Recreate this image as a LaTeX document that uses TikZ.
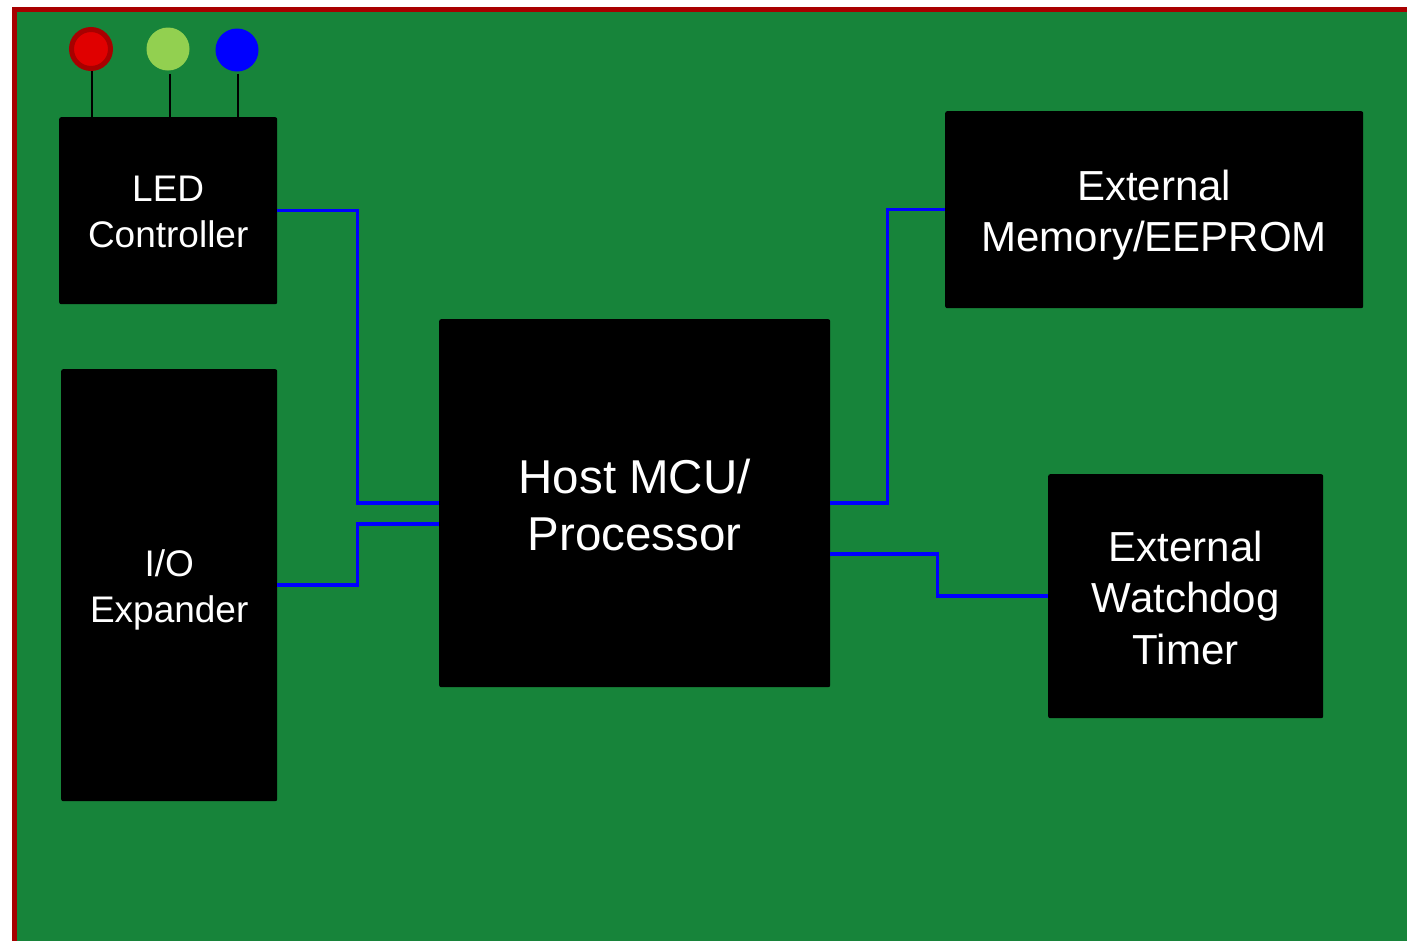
\documentclass[tikz,border=0pt]{standalone}
\usepackage{fontspec}
\setmainfont{Liberation Sans}
\definecolor{board}{RGB}{23,132,58}
\definecolor{boardedge}{RGB}{168,0,0}
\definecolor{ledred}{RGB}{224,0,0}
\definecolor{ledgreen}{RGB}{146,208,80}
\definecolor{ledblue}{RGB}{0,0,255}
\definecolor{trace}{RGB}{0,0,255}
\begin{document}
\begin{tikzpicture}[x=1pt,y=-1pt,
  chip/.style={fill=black,draw=none,rounded corners=2pt,inner sep=0pt,anchor=north west},
  label text/.style={text=white,align=center,inner sep=0pt},
  small/.style={font=\fontsize{37}{46}\selectfont},
  mid/.style={font=\fontsize{42}{51.5}\selectfont},
  big/.style={font=\fontsize{47.5}{57}\selectfont},
  bus/.style={draw=trace,line width=3.5pt},
  pin/.style={draw=black,line width=2pt},
  ledbulb/.style={circle,inner sep=0pt,minimum size=43pt}]
\useasboundingbox (0,0) rectangle (1407,940);
\begin{scope}
\clip (0,0) rectangle (1407,940);
\draw[fill=board,draw=boardedge,line width=5pt] (14.5,9.5) rectangle (1430,960);
\end{scope}
% chips
\node[chip,minimum width=218pt,minimum height=187pt] (led) at (59,117) {};
\node[chip,minimum width=216pt,minimum height=432pt] (io) at (61,369) {};
\node[chip,minimum width=391pt,minimum height=368pt] (host) at (439,319) {};
\node[chip,minimum width=418pt,minimum height=197pt] (mem) at (945,111) {};
\node[chip,minimum width=275pt,minimum height=244pt] (wdt) at (1048,474) {};
\node[label text,small] (ledtext) at ([yshift=-1pt]led.center) {LED\\Controller};
\node[label text,small] (iotext) at ([yshift=-5pt]io.center) {I/O\\Expander};
\node[label text,big] (hosttext) at ([yshift=-2pt]host.center) {Host MCU/\\Processor};
\node[label text,mid] (memtext) at ([yshift=-5.5pt]mem.center) {External\\Memory/EEPROM};
\node[label text,mid] (wdttext) at ([yshift=-1.5pt]wdt.center) {External\\Watchdog\\Timer};
% LEDs
\node[ledbulb,fill=ledred,draw=boardedge,line width=5pt,minimum size=39pt] (red) at (91,49) {};
\node[ledbulb,fill=ledgreen] (green) at (168,49) {};
\node[ledbulb,fill=ledblue] (blue) at (237,50) {};
\draw[pin] ([xshift=1pt]red.south) -- ([xshift=1pt]red.south |- led.north);
\draw[pin] ([xshift=2pt,yshift=-3pt]green.south) -- ([xshift=2pt,yshift=-3pt]green.south |- led.north);
\draw[pin] ([xshift=1pt,yshift=-2pt]blue.south) -- ([xshift=1pt,yshift=-2pt]blue.south |- led.north);
% traces
\draw[bus] (led.east) -- ++(80,0) |- (host.west);
\draw[bus] (io.east) -- ++(80,0) |- ([yshift=-21pt]host.west);
\draw[bus] (host.east) -- ++(57,0) |- (mem.west);
\draw[bus] ([yshift=-51pt]host.east) -- ++(107,0) |- (wdt.west);
\end{tikzpicture}
\end{document}
